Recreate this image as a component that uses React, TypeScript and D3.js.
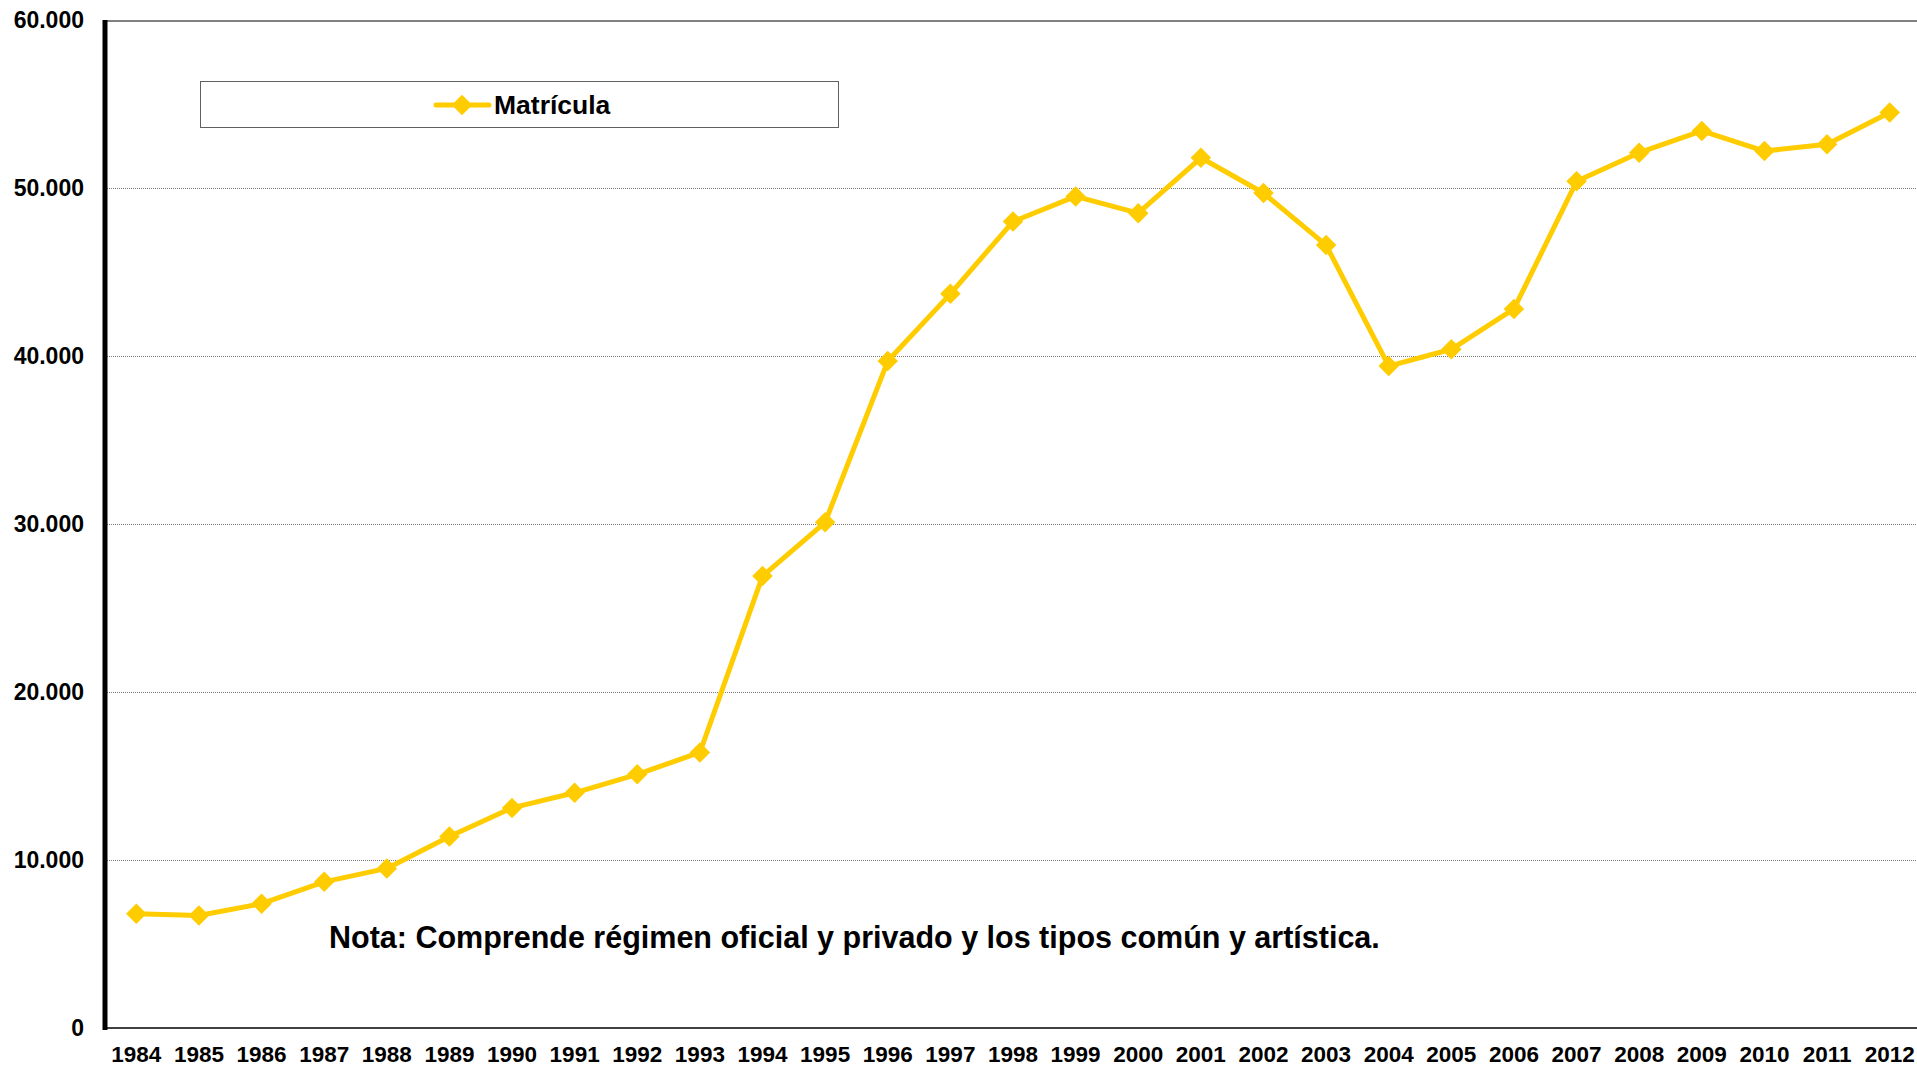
import * as d3 from "d3";
import {useRef, useEffect} from "react";

// matrícula por año
const years = ["1984", "1985", "1986", "1987", "1988", "1989", "1990", "1991", "1992", "1993",
    "1994", "1995", "1996", "1997", "1998", "1999", "2000", "2001", "2002", "2003",
    "2004", "2005", "2006", "2007", "2008", "2009", "2010", "2011", "2012"];
const matricula = [6800, 6700, 7400, 8700, 9500, 11400, 13100, 14000, 15100, 16400,
    26900, 30100, 39700, 43700, 48000, 49500, 48500, 51800, 49700, 46600,
    39400, 40400, 42800, 50400, 52100, 53400, 52200, 52600, 54500];
const yTicks = [0, 10000, 20000, 30000, 40000, 50000, 60000];
const seriesName = "Matrícula";
const note = "Nota: Comprende régimen oficial y privado y los tipos común y artística.";

const App = () => {
    const container = useRef(null);

    useEffect(() => {
        const width = 1917, height = 1069;
        const marginLeft = 105, marginTop = 20, plotRight = 1921, plotBottom = 1028;
        const font = "'Liberation Sans', Arial, sans-serif";
        const gold = "#FFCC00";

        const root = d3.select(container.current);
        root.selectAll("*").remove();

        const svg = root.append("svg")
            .attr("width", width)
            .attr("height", height)
            .attr("style", "position:absolute;left:0;top:0;background:#fff");

        const x = d3.scaleBand().domain(years).range([marginLeft, plotRight]);
        const y = d3.scaleLinear().domain([0, 60000]).range([plotBottom, marginTop]);
        const fmt = v => d3.format(",")(v).replace(/,/g, ".");

        // gridlines
        svg.append("g")
            .selectAll("line")
            .data(yTicks.filter(t => t > 0 && t < 60000))
            .join("line")
            .attr("x1", marginLeft)
            .attr("x2", plotRight)
            .attr("y1", d => y(d) + 0.5)
            .attr("y2", d => y(d) + 0.5)
            .attr("stroke", "#7a7a7a")
            .attr("stroke-width", 1)
            .attr("stroke-dasharray", "1,1");

        // top border
        svg.append("line")
            .attr("x1", marginLeft).attr("x2", plotRight)
            .attr("y1", y(60000) + 1).attr("y2", y(60000) + 1)
            .attr("stroke", "#808080").attr("stroke-width", 2);

        // bottom axis
        svg.append("line")
            .attr("x1", marginLeft).attr("x2", plotRight)
            .attr("y1", plotBottom).attr("y2", plotBottom)
            .attr("stroke", "#404040").attr("stroke-width", 2);

        // left axis (thick)
        svg.append("line")
            .attr("x1", marginLeft).attr("x2", marginLeft)
            .attr("y1", marginTop).attr("y2", plotBottom + 2)
            .attr("stroke", "#000").attr("stroke-width", 5);

        // y labels
        svg.append("g")
            .attr("font-family", font)
            .attr("font-weight", "bold")
            .attr("font-size", 23)
            .attr("text-anchor", "end")
            .selectAll("text")
            .data(yTicks)
            .join("text")
            .attr("x", 84)
            .attr("y", d => y(d))
            .attr("dy", "0.35em")
            .text(d => fmt(d));

        // x labels
        svg.append("g")
            .attr("font-family", font)
            .attr("font-weight", "bold")
            .attr("font-size", 22.5)
            .attr("text-anchor", "middle")
            .selectAll("text")
            .data(years)
            .join("text")
            .attr("x", d => x(d) + x.bandwidth() / 2)
            .attr("y", 1054)
            .attr("dy", "0.35em")
            .text(d => d);

        const cx = (d, i) => x(years[i]) + x.bandwidth() / 2;
        const line = d3.line()
            .x(cx)
            .y(d => y(d));

        svg.append("path")
            .datum(matricula)
            .attr("fill", "none")
            .attr("stroke", gold)
            .attr("stroke-width", 5)
            .attr("stroke-linejoin", "round")
            .attr("d", line);

        const diamond = d3.symbol().type(d3.symbolSquare).size(210);
        svg.append("g")
            .selectAll("path")
            .data(matricula)
            .join("path")
            .attr("fill", gold)
            .attr("d", diamond)
            .attr("transform", (d, i) => `translate(${cx(d, i)},${y(d)}) rotate(45)`);

        // legend
        const lg = svg.append("g");
        lg.append("rect")
            .attr("x", 200.5).attr("y", 81.5)
            .attr("width", 638).attr("height", 46)
            .attr("fill", "#fff")
            .attr("stroke", "#606060")
            .attr("stroke-width", 1);
        lg.append("line")
            .attr("x1", 436).attr("x2", 489)
            .attr("y1", 105).attr("y2", 105)
            .attr("stroke", gold).attr("stroke-width", 5)
            .attr("stroke-linecap", "round");
        lg.append("path")
            .attr("d", diamond)
            .attr("fill", gold)
            .attr("transform", "translate(462,105) rotate(45)");
        lg.append("text")
            .attr("x", 494).attr("y", 105)
            .attr("dy", "0.35em")
            .attr("font-family", font)
            .attr("font-weight", "bold")
            .attr("font-size", 26.5)
            .text(seriesName);

        // note
        svg.append("text")
            .attr("x", 329).attr("y", 937)
            .attr("dy", "0.35em")
            .attr("font-family", font)
            .attr("font-weight", "bold")
            .attr("font-size", 30.5)
            .text(note);
    }, []);

    return (
        <div id="chart" ref={container}></div>
    );
};

export default App;
